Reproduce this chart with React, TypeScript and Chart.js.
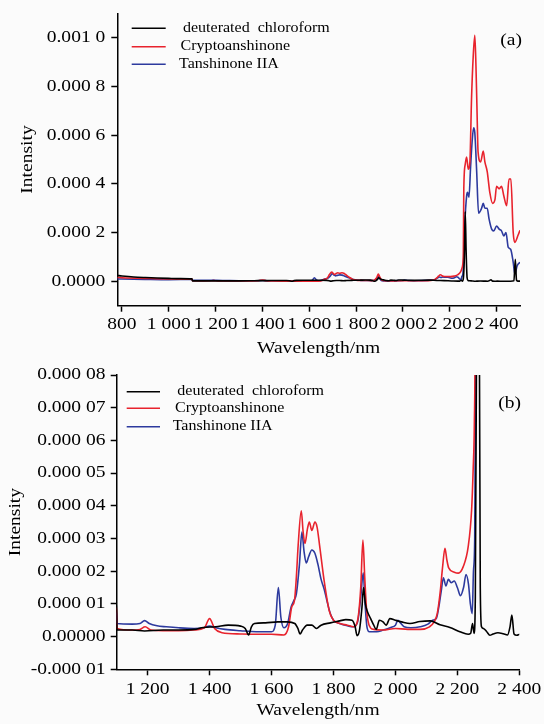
import React, { useEffect, useRef } from 'react';
import { Chart, registerables } from 'chart.js';

Chart.register(...registerables);

const FONT = "'Liberation Serif', 'Times New Roman', Times, serif";
const STRETCH = 1.17;

// ---------- data ----------
const seriesLabels = ['deuterated  chloroform', 'Cryptoanshinone', 'Tanshinone IIA'];
const seriesColors = ['#000000', '#e8232d', '#2d3a9e'];

const chloroformNm = [780, 800, 850, 900, 950, 1000, 1050, 1099, 1101, 1150, 1190, 1250, 1300, 1350, 1380, 1420, 1460, 1500, 1515, 1526, 1535, 1545, 1580, 1620, 1650, 1675, 1685, 1692, 1700, 1715, 1730, 1745, 1760, 1790, 1820, 1840, 1860, 1870, 1876, 1884, 1892, 1897, 1903, 1910, 1920, 1930, 1938, 1948, 1960, 1970, 1982, 2000, 2020, 2047, 2079, 2112, 2144, 2176, 2208, 2235, 2243, 2249, 2254, 2258, 2262, 2266, 2270, 2274, 2278, 2284, 2295, 2305, 2315, 2331, 2348, 2362, 2370, 2376, 2383, 2392, 2402, 2430, 2460, 2474, 2480, 2485, 2490, 2500];
const chloroformVal = [2.4e-5, 2.2e-5, 1.8e-5, 1.55e-5, 1.35e-5, 1.2e-5, 1.1e-5, 1.0e-5, 0.2e-5, 0.2e-5, 0.17e-5, 0.2e-5, 0.2e-5, 0.22e-5, 0.28e-5, 0.3e-5, 0.35e-5, 0.32e-5, 0.25e-5, 0.05e-5, 0.3e-5, 0.4e-5, 0.42e-5, 0.45e-5, 0.45e-5, 0.4e-5, 0.25e-5, 0.08e-5, 0.2e-5, 0.35e-5, 0.35e-5, 0.25e-5, 0.35e-5, 0.42e-5, 0.48e-5, 0.52e-5, 0.5e-5, 0.3e-5, 0.03e-5, 0.2e-5, 0.9e-5, 1.5e-5, 1.0e-5, 0.75e-5, 0.55e-5, 0.35e-5, 0.22e-5, 0.5e-5, 0.45e-5, 0.35e-5, 0.55e-5, 0.5e-5, 0.45e-5, 0.4e-5, 0.46e-5, 0.48e-5, 0.36e-5, 0.28e-5, 0.15e-5, 0.07e-5, 0.1e-5, 0.4e-5, 0.1e-5, 1.2e-5, 9e-5, 28.6e-5, 12e-5, 1.5e-5, 0.3e-5, 0.25e-5, 0.15e-5, 0.04e-5, 0.08e-5, 0.12e-5, 0.09e-5, 0.05e-5, 0.3e-5, 0.66e-5, 0.08e-5, 0.04e-5, 0.07e-5, 0.05e-5, 0.05e-5, 0.2e-5, 9e-5, 0.5e-5, 0.1e-5, 0.1e-5];

const cryptoNm = [780, 800, 900, 1000, 1099, 1101, 1150, 1175, 1192, 1210, 1250, 1300, 1350, 1383, 1400, 1416, 1440, 1500, 1550, 1600, 1640, 1655, 1665, 1674, 1680, 1686, 1696, 1702, 1708, 1716, 1722, 1730, 1740, 1747, 1755, 1770, 1786, 1800, 1820, 1845, 1865, 1878, 1888, 1895, 1901, 1907, 1915, 1930, 1960, 2000, 2040, 2080, 2110, 2125, 2135, 2145, 2152, 2160, 2166, 2172, 2190, 2203, 2219, 2235, 2246, 2251, 2255, 2258, 2260, 2266, 2272, 2279, 2286, 2293, 2300, 2307, 2312, 2316, 2321, 2332, 2343, 2350, 2360, 2371, 2383, 2393, 2400, 2411, 2421, 2431, 2443, 2453, 2461, 2471, 2478, 2492, 2500];
const cryptoVal = [1.6e-5, 1.5e-5, 1.2e-5, 1.0e-5, 0.9e-5, 0.25e-5, 0.2e-5, 0.22e-5, 0.3e-5, 0.2e-5, 0.18e-5, 0.18e-5, 0.2e-5, 0.27e-5, 0.55e-5, 0.25e-5, 0.12e-5, 0.08e-5, 0.07e-5, 0.07e-5, 0.05e-5, 0.3e-5, 0.9e-5, 1.1e-5, 1.8e-5, 2.8e-5, 3.85e-5, 3.2e-5, 2.85e-5, 3.3e-5, 3.5e-5, 3.25e-5, 3.5e-5, 3.35e-5, 2.8e-5, 1.7e-5, 0.8e-5, 0.5e-5, 0.4e-5, 0.35e-5, 0.3e-5, 0.5e-5, 1.5e-5, 2.95e-5, 1.8e-5, 0.8e-5, 0.35e-5, 0.22e-5, 0.2e-5, 0.25e-5, 0.22e-5, 0.22e-5, 0.3e-5, 0.45e-5, 0.7e-5, 1.4e-5, 2.1e-5, 2.7e-5, 2.35e-5, 2.1e-5, 1.97e-5, 1.94e-5, 2.14e-5, 2.75e-5, 3.87e-5, 5.1e-5, 6.6e-5, 12e-5, 38e-5, 48e-5, 51e-5, 46e-5, 49e-5, 75e-5, 92e-5, 101e-5, 88e-5, 72e-5, 53e-5, 49e-5, 53.5e-5, 49e-5, 45e-5, 36.5e-5, 32e-5, 33.5e-5, 39e-5, 38e-5, 39e-5, 35e-5, 31e-5, 42e-5, 42e-5, 20e-5, 16e-5, 19e-5, 21e-5];

const tanshNm = [780, 800, 900, 1000, 1099, 1101, 1150, 1175, 1190, 1205, 1230, 1260, 1300, 1350, 1380, 1400, 1420, 1450, 1500, 1550, 1600, 1612, 1622, 1630, 1640, 1652, 1663, 1672, 1680, 1690, 1698, 1705, 1712, 1720, 1730, 1740, 1750, 1760, 1770, 1780, 1790, 1800, 1820, 1845, 1865, 1878, 1888, 1896, 1902, 1908, 1916, 1940, 1960, 1985, 2000, 2008, 2016, 2028, 2050, 2080, 2105, 2120, 2132, 2140, 2148, 2155, 2163, 2171, 2180, 2190, 2200, 2210, 2220, 2228, 2236, 2242, 2248, 2252, 2256, 2260, 2264, 2272, 2276, 2282, 2289, 2296, 2302, 2307, 2315, 2323, 2336, 2343, 2350, 2360, 2368, 2379, 2388, 2400, 2411, 2421, 2431, 2440, 2450, 2460, 2471, 2478, 2488, 2500];
const tanshVal = [1.0e-5, 0.95e-5, 0.8e-5, 0.7e-5, 0.75e-5, 0.4e-5, 0.38e-5, 0.4e-5, 0.49e-5, 0.4e-5, 0.33e-5, 0.3e-5, 0.27e-5, 0.25e-5, 0.27e-5, 0.32e-5, 0.27e-5, 0.22e-5, 0.18e-5, 0.15e-5, 0.15e-5, 0.35e-5, 1.5e-5, 0.6e-5, 0.27e-5, 0.4e-5, 0.9e-5, 1.1e-5, 1.3e-5, 2.2e-5, 3.2e-5, 2.6e-5, 2.25e-5, 2.45e-5, 2.65e-5, 2.55e-5, 2.2e-5, 1.75e-5, 1.45e-5, 1.05e-5, 0.7e-5, 0.5e-5, 0.4e-5, 0.33e-5, 0.3e-5, 0.45e-5, 1.2e-5, 1.95e-5, 1.0e-5, 0.3e-5, 0.15e-5, 0.15e-5, 0.2e-5, 0.28e-5, 0.35e-5, 0.5e-5, 0.42e-5, 0.3e-5, 0.27e-5, 0.3e-5, 0.38e-5, 0.5e-5, 0.55e-5, 0.9e-5, 1.4e-5, 1.8e-5, 1.55e-5, 1.75e-5, 1.65e-5, 1.7e-5, 1.5e-5, 1.25e-5, 1.5e-5, 1.9e-5, 1.6e-5, 1.0e-5, 0.7e-5, 2e-5, 3e-5, 10e-5, 23e-5, 35e-5, 36.5e-5, 34.5e-5, 47e-5, 58e-5, 63e-5, 61e-5, 45e-5, 28e-5, 30e-5, 32e-5, 30e-5, 30e-5, 25.5e-5, 21.4e-5, 20.7e-5, 22.7e-5, 21.4e-5, 20.7e-5, 18.6e-5, 20e-5, 13.9e-5, 13.2e-5, 7.8e-5, 3e-5, 6.4e-5, 7.8e-5];

// panel (a) axes
const xTicksA = [800, 1000, 1200, 1400, 1600, 1800, 2000, 2200, 2400];
const xTickLabelsA = ['800', '1 000', '1 200', '1 400', '1 600', '1 800', '2 000', '2 200', '2 400'];
const yTicksA = [0, 0.0002, 0.0004, 0.0006, 0.0008, 0.001];
const yTickLabelsA = ['0.0000', '0.000 2', '0.000 4', '0.000 6', '0.000 8', '0.001 0'];

// panel (b) axes
const xTicksB = [1200, 1400, 1600, 1800, 2000, 2200, 2400];
const xTickLabelsB = ['1 200', '1 400', '1 600', '1 800', '2 000', '2 200', '2 400'];
const yTicksB = [-0.00001, 0, 0.00001, 0.00002, 0.00003, 0.00004, 0.00005, 0.00006, 0.00007, 0.00008];
const yTickLabelsB = ['-0.000 01', '0.00000', '0.000 01', '0.000 02', '0.000 03', '0.000 04', '0.000 05', '0.000 06', '0.000 07', '0.000 08'];

const xTitle = 'Wavelength/nm';
const yTitle = 'Intensity';

const seriesNm = [chloroformNm, cryptoNm, tanshNm];
const seriesVal = [chloroformVal, cryptoVal, tanshVal];

// ---------- layout specs ----------
type Spec = {
  top: number; canvasH: number;
  xMin: number; xMax: number; xTicks: number[]; xLabels: string[];
  yMin: number; yMax: number; yTicks: number[]; yLabels: string[];
  areaLeft: number; areaRight: number; areaTop: number; areaBottom: number;
  xLabelY: number; yLabelRight: number; xTitleY: number; yTitleX: number;
  legLine: [number, number]; legRows: number[]; legText: number[];
  tag: string; tagX: number; tagY: number;
};

const specA: Spec = {
  top: 0, canvasH: 362,
  xMin: 780, xMax: 2500, xTicks: xTicksA, xLabels: xTickLabelsA,
  yMin: -0.0001, yMax: 0.0011, yTicks: yTicksA, yLabels: yTickLabelsA,
  areaLeft: 117.3, areaRight: 520, areaTop: 13.3, areaBottom: 305.7,
  xLabelY: 325, yLabelRight: 105.3, xTitleY: 348.2, yTitleX: 27.4,
  legLine: [131.7, 165.7], legRows: [28.3, 46.7, 64.3], legText: [183, 180.6, 179],
  tag: '(a)', tagX: 522, tagY: 40.2,
};

const specB: Spec = {
  top: 362, canvasH: 362,
  xMin: 1100, xMax: 2400, xTicks: xTicksB, xLabels: xTickLabelsB,
  yMin: -0.00001, yMax: 0.00008, yTicks: yTicksB, yLabels: yTickLabelsB,
  areaLeft: 116.7, areaRight: 519.3, areaTop: 13, areaBottom: 307.3,
  xLabelY: 328, yLabelRight: 105.5, xTitleY: 348.7, yTitleX: 15.8,
  legLine: [126.7, 160], legRows: [29.7, 46.3, 64.7], legText: [177.3, 175, 172.7],
  tag: '(b)', tagX: 521, tagY: 41.6,
};

function drawText(ctx: CanvasRenderingContext2D, text: string, x: number, y: number, align: CanvasTextAlign, size: number, rotate = false) {
  ctx.save();
  ctx.translate(x, y);
  if (rotate) ctx.rotate(-Math.PI / 2);
  ctx.scale(STRETCH, 1);
  ctx.font = `${size}px ${FONT}`;
  ctx.fillStyle = '#000';
  ctx.textAlign = align;
  ctx.textBaseline = 'middle';
  ctx.fillText(text, 0, 0);
  ctx.restore();
}

const overlayPlugin = {
  id: 'overlay',
  afterDraw(chart: any, _args: any, opts: any) {
    const ctx = chart.ctx as CanvasRenderingContext2D;
    const spec: Spec = opts.spec;
    const xs = chart.scales.x;
    const ys = chart.scales.y;
    const area = chart.chartArea;
    ctx.save();
    // tick labels
    spec.xTicks.forEach((v, i) => drawText(ctx, spec.xLabels[i], xs.getPixelForValue(v), spec.xLabelY, 'center', 16.7));
    spec.yTicks.forEach((v, i) => drawText(ctx, spec.yLabels[i], spec.yLabelRight, ys.getPixelForValue(v), 'right', 16.7));
    // axis titles
    drawText(ctx, xTitle, (area.left + area.right) / 2, spec.xTitleY, 'center', 16.7);
    drawText(ctx, yTitle, spec.yTitleX, (area.top + area.bottom) / 2, 'center', 16.7, true);
    // legend
    chart.data.datasets.forEach((ds: any, i: number) => {
      const y = spec.legRows[i];
      ctx.strokeStyle = ds.borderColor;
      ctx.lineWidth = 1.5;
      ctx.beginPath();
      ctx.moveTo(spec.legLine[0], y);
      ctx.lineTo(spec.legLine[1], y);
      ctx.stroke();
      drawText(ctx, ds.label, spec.legText[i], y, 'left', 13.7);
    });
    drawText(ctx, spec.tag, spec.tagX, spec.tagY, 'right', 16.7);
    ctx.restore();
  },
};

function buildConfig(spec: Spec): any {
  const datasets = seriesLabels.map((label, i) => ({
    label,
    data: seriesNm[i].map((x, j) => ({ x, y: seriesVal[i][j] })),
    borderColor: seriesColors[i],
    backgroundColor: seriesColors[i],
    borderWidth: 1.6,
    pointRadius: 0,
    cubicInterpolationMode: 'monotone',
    fill: false,
  }));
  const hidden = { family: FONT, size: 16 };
  return {
    type: 'line',
    data: { datasets },
    plugins: [overlayPlugin],
    options: {
      animation: false,
      responsive: false,
      devicePixelRatio: 1,
      events: [],
      layout: {
        padding: { left: 0, top: spec.areaTop, right: 544 - spec.areaRight, bottom: 0 },
      },
      plugins: {
        legend: { display: false },
        tooltip: { enabled: false },
        overlay: { spec },
      },
      scales: {
        x: {
          type: 'linear',
          min: spec.xMin,
          max: spec.xMax,
          afterBuildTicks: (s: any) => { s.ticks = spec.xTicks.map((v) => ({ value: v })); },
          afterFit: (s: any) => {
            s.height = spec.canvasH - spec.areaBottom;
            s.paddingLeft = 0; s.paddingRight = 0; s.paddingTop = 0; s.paddingBottom = 0;
          },
          ticks: {
            autoSkip: false, maxRotation: 0, minRotation: 0,
            color: 'rgba(0,0,0,0)', font: hidden,
            callback: (_v: any, i: number) => spec.xLabels[i],
          },
          grid: { drawOnChartArea: false, drawTicks: true, tickLength: 6, tickWidth: 1.5, tickColor: '#000', color: '#000' },
          border: { display: true, color: '#000', width: 1.5 },
          title: { display: false },
        },
        y: {
          type: 'linear',
          min: spec.yMin,
          max: spec.yMax,
          afterBuildTicks: (s: any) => { s.ticks = spec.yTicks.map((v) => ({ value: v })); },
          afterFit: (s: any) => {
            s.width = spec.areaLeft;
            s.paddingLeft = 0; s.paddingRight = 0; s.paddingTop = 0; s.paddingBottom = 0;
          },
          ticks: {
            autoSkip: false, color: 'rgba(0,0,0,0)', font: hidden,
            callback: (_v: any, i: number) => spec.yLabels[i],
          },
          grid: { drawOnChartArea: false, drawTicks: true, tickLength: 6, tickWidth: 1.5, tickColor: '#000', color: '#000' },
          border: { display: true, color: '#000', width: 1.5 },
          title: { display: false },
        },
      },
    },
  };
}

function Panel({ spec }: { spec: Spec }) {
  const ref = useRef<HTMLCanvasElement>(null);
  useEffect(() => {
    const chart = new Chart(ref.current as HTMLCanvasElement, buildConfig(spec));
    return () => chart.destroy();
  }, [spec]);
  return (
    <canvas
      ref={ref}
      width={544}
      height={spec.canvasH}
      style={{ position: 'absolute', left: 0, top: spec.top, width: 544, height: spec.canvasH, display: 'block' }}
    />
  );
}

export default function App() {
  return (
    <div style={{ position: 'absolute', left: 0, top: 0, width: 544, height: 724, background: '#fbfbfb', overflow: 'hidden' }}>
      <Panel spec={specA} />
      <Panel spec={specB} />
    </div>
  );
}
